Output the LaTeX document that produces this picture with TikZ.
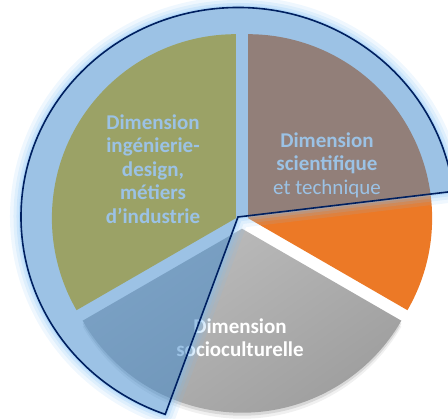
\documentclass[tikz,border=0pt]{standalone}
\usepackage{fontspec}
\setmainfont{Carlito}
\definecolor{goldslice}{RGB}{255,192,0}
\definecolor{orangeslice}{RGB}{236,121,38}
\definecolor{greylight}{RGB}{190,190,190}
\definecolor{greydark}{RGB}{156,156,156}
\definecolor{overlayblue}{RGB}{57,134,204}
\definecolor{glowblue}{RGB}{125,190,245}
\definecolor{navyline}{RGB}{0,32,96}

\begin{document}
\begin{tikzpicture}[x=1pt, y=1pt,
        dimlabel/.style={align=center, text=white, inner sep=0pt, font=\fontsize{21}{23.5}\selectfont\bfseries},
        glow/.style={draw=glowblue, line join=round},
        outline/.style={draw=navyline, line width=1.6pt, line join=miter},
        sector/.style={insert path={(ov) -- +(7.03:217 and 209.5) arc[start angle=7.03, end angle=250.4, x radius=217, y radius=209.5] -- cycle}}
        ]

        \useasboundingbox (0,0) rectangle (448,419);
        \clip (0,0) rectangle (448,419);

        % Slices
        \coordinate (gold) at (235.9,200.8);
        \coordinate (orange) at (248.1,200.8);
        \coordinate (grey) at (242,190.3);
        \coordinate (ov) at (238,202);

        \foreach \s/\o in {3/0.10, 6/0.06}
            \fill[black, opacity=\o] ([yshift=-\s]grey) -- +(210:184) arc[start angle=210, end angle=330, radius=184] -- cycle;
        \fill[goldslice] (gold) -- +(90:184) arc[start angle=90, end angle=210, radius=184] -- cycle;
        \fill[orangeslice] (orange) -- +(-30:184) arc[start angle=-30, end angle=90, radius=184] -- cycle;
        \shade[top color=greylight, bottom color=greydark, shading angle=35] (grey) -- +(210:184) arc[start angle=210, end angle=330, radius=184] -- cycle;

        % Labels
        \node (indus) [dimlabel] at (153,250) {Dimension\\ingénierie-\\design,\\métiers\\d’industrie};
        \node (scient) [dimlabel] at (327,254) {Dimension\\scientifique\\{\mdseries et technique}};
        \node (socio) [dimlabel] at (240,81.5) {Dimension\\socioculturelle};

        % Overlay with glow
        \begin{scope}
            \clip (0,0) -- (0,419) -- (448,419) -- (448,0) -- cycle [sector];
            \foreach \w/\o in {22/0.12, 15/0.15, 9/0.2, 4/0.3}
                \draw[glow, line width=\w pt, opacity=\o] [sector];
        \end{scope}
        \fill[overlayblue, opacity=0.5] [sector];
        \draw[outline] [sector];

    \end{tikzpicture}
\end{document}
